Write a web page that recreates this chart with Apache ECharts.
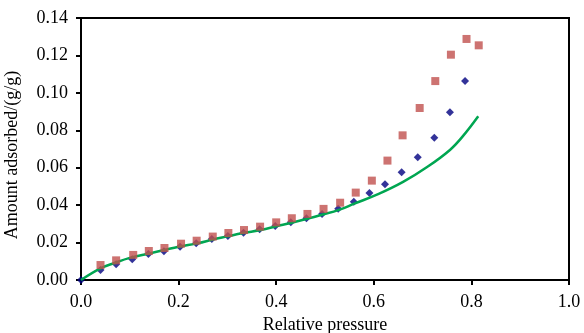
<!DOCTYPE html>
<html>
<head>
<meta charset="utf-8">
<script src="https://cdn.jsdelivr.net/npm/echarts@6/dist/echarts.min.js"></script>
<style>
  html, body { margin: 0; padding: 0; background: #fff; }
  #chart { width: 584px; height: 333px; }
</style>
</head>
<body>
<div id="chart"></div>
<script>
// blue diamonds
const blueX = [0, 0.040, 0.072, 0.105, 0.138, 0.170, 0.203, 0.236, 0.268, 0.301, 0.333, 0.366,
  0.398, 0.430, 0.462, 0.494, 0.527, 0.559, 0.591, 0.623, 0.657, 0.690, 0.724, 0.756, 0.787];
const blueY = [0, 0.0053, 0.0084, 0.0111, 0.0139, 0.0153, 0.0178, 0.0196, 0.0219, 0.0235, 0.0253, 0.0271,
  0.0289, 0.0308, 0.0330, 0.0353, 0.0381, 0.0418, 0.0465, 0.0512, 0.0576, 0.0656, 0.0760, 0.0896, 0.1064];

// red squares
const redX = [0.040, 0.072, 0.107, 0.139, 0.171, 0.205, 0.237, 0.270, 0.302, 0.334, 0.367,
  0.400, 0.432, 0.464, 0.497, 0.531, 0.563, 0.596, 0.628, 0.659, 0.694, 0.726, 0.758, 0.790, 0.815];
const redY = [0.0080, 0.0105, 0.0134, 0.0155, 0.0171, 0.0194, 0.0210, 0.0232, 0.0251, 0.0267, 0.0285,
  0.0308, 0.0330, 0.0353, 0.0380, 0.0413, 0.0467, 0.0531, 0.0638, 0.0773, 0.0919, 0.1063, 0.1204, 0.1288, 0.1254];

// green curve
const lineX = [0, 0.04, 0.07, 0.10, 0.14, 0.17, 0.20, 0.24, 0.27, 0.30, 0.33, 0.37, 0.40, 0.43,
  0.46, 0.49, 0.53, 0.56, 0.61, 0.66, 0.71, 0.756, 0.783, 0.814];
const lineY = [0, 0.0062, 0.0092, 0.0118, 0.0142, 0.0160, 0.0178, 0.0197, 0.0216, 0.0233, 0.0250, 0.0268,
  0.0287, 0.0305, 0.0325, 0.0346, 0.0376, 0.0408, 0.0460, 0.0524, 0.0605, 0.0695, 0.0770, 0.0875];

const zip = (xs, ys) => xs.map((x, i) => [x, ys[i]]);

const font = 'Liberation Serif';
const chart = echarts.init(document.getElementById('chart'), null, { renderer: 'canvas' });

const option = {
  animation: false,
  backgroundColor: '#fff',
  grid: {
    left: 81,
    right: 15,
    top: 18,
    bottom: 53,
    outerBoundsMode: 'none',
    show: true,
    borderColor: '#000',
    borderWidth: 2,
  },
  xAxis: {
    type: 'value',
    min: 0,
    max: 1,
    interval: 0.2,
    name: 'Relative pressure',
    nameLocation: 'middle',
    nameGap: 36,
    nameTextStyle: { color: '#000', fontFamily: font, fontSize: 18 },
    axisLine: { show: true, lineStyle: { color: '#000', width: 2 } },
    axisTick: { show: true, length: 5, lineStyle: { color: '#000', width: 2 } },
    axisLabel: {
      color: '#000', fontFamily: font, fontSize: 18, margin: 13,
      formatter: (v) => v.toFixed(1),
    },
    splitLine: { show: false },
  },
  yAxis: {
    type: 'value',
    min: 0,
    max: 0.14,
    interval: 0.02,
    name: 'Amount adsorbed/(g/g)',
    nameLocation: 'middle',
    nameGap: 60,
    nameRotate: 90,
    nameTextStyle: { color: '#000', fontFamily: font, fontSize: 18, padding: [0, 12, 0, 0] },
    axisLine: { show: true, lineStyle: { color: '#000', width: 2 } },
    axisTick: { show: true, length: 5, lineStyle: { color: '#000', width: 2 } },
    axisLabel: {
      color: '#000', fontFamily: font, fontSize: 18, margin: 13,
      formatter: (v) => v.toFixed(2),
    },
    splitLine: { show: false },
  },
  series: [
    {
      type: 'scatter',
      data: zip(blueX, blueY),
      symbol: 'diamond',
      symbolSize: [8, 8],
      itemStyle: { color: '#00007f' },
      z: 2,
    },
    {
      type: 'line',
      data: zip(lineX, lineY),
      showSymbol: false,
      smooth: 0.4,
      lineStyle: { color: '#00a651', width: 2.5 },
      z: 3,
    },
    {
      type: 'scatter',
      data: zip(redX, redY),
      symbol: 'rect',
      symbolSize: 8,
      itemStyle: { color: '#c0504d' },
      z: 4,
    },
  ],
};

chart.setOption(option);
</script>
</body>
</html>
